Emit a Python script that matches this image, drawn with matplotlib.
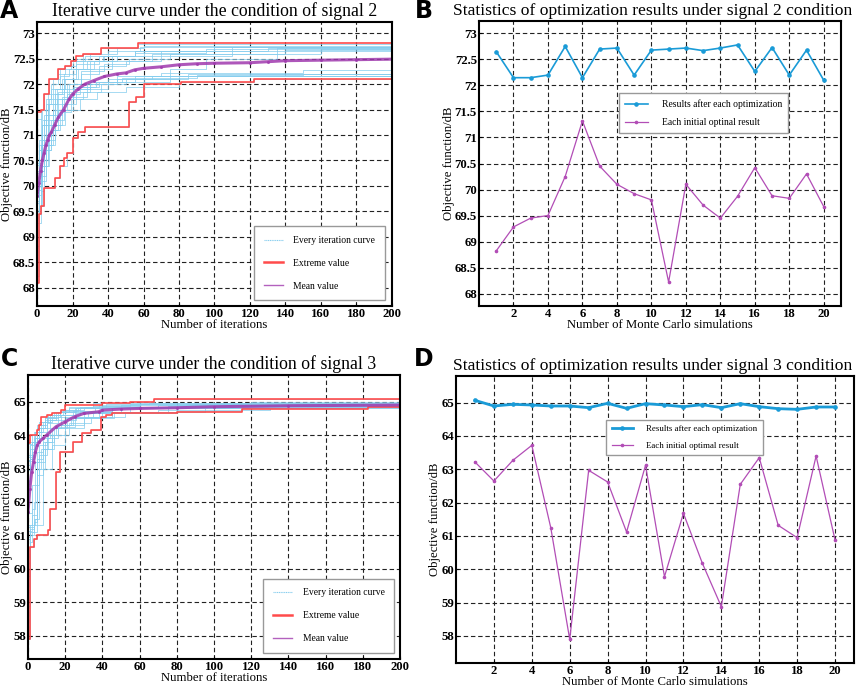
import numpy as np
import matplotlib
matplotlib.use("Agg")
import matplotlib.pyplot as plt
from matplotlib.lines import Line2D

# ---------------- data ----------------
runs = list(range(1, 21))

# Panel B (signal 2)
s2_final = [72.65, 72.15, 72.15, 72.2, 72.75, 72.15, 72.7, 72.72, 72.2, 72.68,
            72.7, 72.72, 72.67, 72.72, 72.78, 72.27, 72.73, 72.2, 72.68, 72.1]
s2_initial = [68.82, 69.28, 69.45, 69.5, 70.25, 71.32, 70.45, 70.1, 69.92, 69.8,
              68.22, 70.1, 69.7, 69.45, 69.87, 70.42, 69.88, 69.83, 70.3, 69.67]

# Panel D (signal 3)
s3_final = [65.07, 64.9, 64.95, 64.93, 64.9, 64.9, 64.85, 64.98, 64.83, 64.97,
            64.93, 64.88, 64.94, 64.85, 64.97, 64.88, 64.82, 64.8, 64.87, 64.87]
s3_initial = [63.22, 62.65, 63.27, 63.72, 61.25, 57.9, 62.97, 62.62, 61.12, 63.12,
              59.78, 61.68, 60.18, 58.88, 62.55, 63.35, 61.32, 60.95, 63.4, 60.88]

# Panel A: step points of each iteration curve (iteration, value)
s2_curve_iters = [
    [0, 1, 3, 5, 8, 12, 18, 25, 35, 50, 70, 110],
    [0, 2, 4, 7, 10, 15, 22, 30, 45, 80],
    [0, 1, 3, 6, 9, 14, 20, 28, 40, 65],
    [0, 2, 5, 8, 12, 17, 24, 33, 48, 90, 150],
    [0, 1, 3, 5, 8, 12, 16, 22, 30, 45, 60],
    [0, 3, 7, 12, 20, 35, 55],
    [0, 2, 4, 7, 11, 16, 23, 32, 45, 70, 130],
    [0, 1, 3, 6, 10, 15, 22, 35, 55, 100],
    [0, 2, 5, 9, 14, 20, 28, 40, 60, 120],
    [0, 1, 4, 7, 11, 17, 25, 38, 52, 75, 160],
    [0, 1, 2, 4, 10, 13, 17, 20, 23, 27, 52, 56, 60, 75, 95, 135],
    [0, 2, 4, 6, 9, 13, 19, 27, 40, 58],
    [0, 1, 3, 6, 10, 15, 21, 30, 42, 65, 140],
    [0, 1, 3, 5, 9, 14, 20, 28, 38, 55, 100],
    [0, 1, 2, 4, 7, 12, 16, 20, 26, 36, 57],
    [0, 2, 5, 9, 14, 20, 30, 45, 70, 150],
    [0, 1, 3, 6, 10, 15, 22, 30, 42, 60, 110],
    [0, 2, 4, 8, 13, 19, 26, 36, 50, 85],
    [0, 1, 3, 5, 8, 13, 18, 26, 37, 55, 95],
    [0, 1, 3, 6, 10, 16, 24, 34, 50, 80, 122],
]
s2_curve_values = [
    [68.82, 69.6, 70.2, 70.8, 71.3, 71.7, 72.0, 72.2, 72.35, 72.45, 72.55, 72.65],
    [69.28, 69.9, 70.4, 70.9, 71.3, 71.6, 71.85, 72.0, 72.1, 72.15],
    [69.45, 70.0, 70.5, 71.0, 71.4, 71.7, 71.9, 72.0, 72.1, 72.15],
    [69.5, 70.1, 70.7, 71.1, 71.5, 71.8, 71.95, 72.05, 72.12, 72.17, 72.2],
    [70.25, 70.8, 71.3, 71.7, 72.0, 72.2, 72.35, 72.5, 72.6, 72.7, 72.75],
    [71.32, 71.5, 71.7, 71.85, 71.95, 72.05, 72.15],
    [70.45, 70.9, 71.3, 71.6, 71.9, 72.1, 72.3, 72.45, 72.55, 72.65, 72.7],
    [70.1, 70.7, 71.2, 71.6, 71.9, 72.2, 72.4, 72.55, 72.65, 72.72],
    [69.92, 70.4, 70.8, 71.2, 71.5, 71.75, 71.9, 72.05, 72.15, 72.2],
    [69.8, 70.3, 70.9, 71.3, 71.7, 72.0, 72.25, 72.4, 72.5, 72.6, 72.68],
    [68.22, 69.45, 69.6, 69.95, 70.15, 70.4, 70.65, 70.95, 71.05, 71.15, 71.65, 71.75, 72.05, 72.3, 72.5, 72.7],
    [70.1, 70.8, 71.4, 71.8, 72.1, 72.3, 72.45, 72.55, 72.65, 72.72],
    [69.7, 70.3, 70.8, 71.2, 71.6, 71.9, 72.1, 72.3, 72.45, 72.6, 72.67],
    [69.45, 70.2, 70.9, 71.4, 71.8, 72.1, 72.3, 72.45, 72.55, 72.65, 72.72],
    [69.87, 70.9, 71.5, 71.8, 72.1, 72.3, 72.35, 72.45, 72.6, 72.7, 72.78],
    [70.42, 70.8, 71.2, 71.5, 71.75, 71.9, 72.05, 72.15, 72.22, 72.27],
    [69.88, 70.5, 71.0, 71.4, 71.8, 72.1, 72.3, 72.45, 72.55, 72.65, 72.73],
    [69.83, 70.3, 70.7, 71.1, 71.45, 71.7, 71.85, 72.0, 72.1, 72.2],
    [70.3, 70.7, 71.2, 71.6, 71.9, 72.15, 72.3, 72.45, 72.55, 72.62, 72.68],
    [69.67, 70.0, 70.4, 70.8, 71.2, 71.5, 71.7, 71.85, 71.95, 72.05, 72.1],
]
s2_upper_iters = [0, 2, 4, 7, 12, 16, 19, 22, 26, 36, 57, 200]
s2_upper_values = [71.45, 71.5, 71.8, 72.1, 72.3, 72.35, 72.45, 72.55, 72.6, 72.7, 72.8, 72.8]
s2_lower_iters = [0, 1, 2, 4, 10, 13, 15, 17, 20, 23, 27, 52, 56, 60, 81, 122, 200]
s2_lower_values = [68.1, 69.45, 69.6, 69.95, 70.15, 70.4, 70.55, 70.65, 70.95, 71.05,
                   71.15, 71.65, 71.75, 72.0, 72.05, 72.1, 72.1]
s2_mean_iters = [0, 1, 2, 3, 4, 5, 6, 7, 8, 10, 12, 15, 18, 20, 23, 27, 32, 38, 45, 50,
                 55, 60, 70, 80, 90, 100, 120, 130, 140, 160, 180, 200]
s2_mean_values = [69.8, 70.05, 70.3, 70.5, 70.65, 70.8, 70.9, 71.0, 71.05, 71.2, 71.35,
                  71.5, 71.7, 71.8, 71.9, 72.0, 72.07, 72.15, 72.2, 72.22, 72.28, 72.31,
                  72.34, 72.38, 72.4, 72.41, 72.42, 72.44, 72.46, 72.47, 72.48, 72.49]

# Panel C
s3_curve_iters = [
    [0, 2, 5, 9, 15, 22, 35, 60, 68],
    [0, 1, 3, 6, 10, 16, 25, 40, 80],
    [0, 1, 4, 8, 13, 20, 30, 50, 100],
    [0, 2, 5, 9, 14, 22, 35, 55],
    [0, 3, 5, 8, 12, 18, 26, 40, 70],
    [0, 1, 3, 5, 11, 12, 15, 17, 24, 29, 34, 39, 45, 80, 115, 183],
    [0, 2, 4, 7, 12, 18, 28, 45, 90],
    [0, 1, 3, 6, 10, 17, 26, 40, 60, 120],
    [0, 2, 5, 7, 11, 16, 24, 38, 75],
    [0, 1, 4, 7, 12, 19, 28, 42, 65],
    [0, 1, 3, 5, 8, 13, 20, 30, 45, 85],
    [0, 2, 4, 6, 10, 15, 23, 35, 55, 110],
    [0, 1, 3, 5, 9, 14, 21, 32, 50, 90],
    [0, 1, 2, 5, 8, 13, 20, 30, 46, 80, 150],
    [0, 1, 3, 6, 10, 16, 25, 38, 60],
    [0, 2, 5, 9, 15, 24, 36, 55, 100],
    [0, 2, 4, 6, 10, 16, 25, 40, 70, 130],
    [0, 1, 4, 6, 9, 14, 22, 34, 52, 95],
    [0, 1, 3, 6, 11, 17, 27, 42, 75],
    [0, 1, 3, 5, 8, 13, 20, 30, 45, 80, 140],
]
s3_curve_values = [
    [63.22, 63.8, 64.2, 64.5, 64.7, 64.85, 64.95, 65.0, 65.07],
    [62.65, 63.3, 63.8, 64.1, 64.35, 64.55, 64.7, 64.8, 64.9],
    [63.27, 63.7, 64.1, 64.4, 64.6, 64.75, 64.85, 64.9, 64.95],
    [63.72, 64.0, 64.3, 64.55, 64.7, 64.8, 64.88, 64.93],
    [61.25, 62.0, 63.5, 63.9, 64.2, 64.45, 64.65, 64.8, 64.9],
    [57.9, 60.65, 60.9, 61.0, 61.15, 61.8, 62.9, 63.5, 63.8, 64.05, 64.15, 64.55, 64.65, 64.72, 64.8, 64.9],
    [62.97, 63.5, 63.9, 64.2, 64.45, 64.6, 64.72, 64.8, 64.85],
    [62.62, 63.4, 63.9, 64.3, 64.55, 64.7, 64.8, 64.88, 64.93, 64.98],
    [61.12, 61.6, 63.0, 63.6, 64.0, 64.3, 64.55, 64.7, 64.83],
    [63.12, 63.6, 64.1, 64.4, 64.6, 64.75, 64.85, 64.92, 64.97],
    [59.78, 61.0, 61.5, 63.3, 63.8, 64.2, 64.5, 64.65, 64.8, 64.93],
    [61.68, 62.5, 63.2, 63.7, 64.0, 64.3, 64.55, 64.7, 64.8, 64.88],
    [60.18, 61.2, 61.4, 63.2, 63.8, 64.2, 64.5, 64.7, 64.85, 64.94],
    [58.88, 60.8, 61.1, 61.3, 63.0, 63.7, 64.2, 64.5, 64.7, 64.8, 64.85],
    [62.55, 63.3, 63.8, 64.2, 64.5, 64.7, 64.82, 64.9, 64.97],
    [63.35, 63.8, 64.2, 64.45, 64.6, 64.72, 64.8, 64.85, 64.88],
    [61.32, 61.8, 62.5, 63.4, 63.9, 64.25, 64.5, 64.65, 64.75, 64.82],
    [60.95, 61.3, 61.5, 63.0, 63.6, 64.0, 64.35, 64.55, 64.7, 64.8],
    [63.4, 63.8, 64.1, 64.4, 64.6, 64.72, 64.8, 64.85, 64.87],
    [60.88, 61.1, 61.3, 62.8, 63.6, 64.0, 64.3, 64.55, 64.7, 64.8, 64.87],
]
s3_upper_iters = [0, 1, 5, 6, 7, 10, 13, 18, 20, 40, 55, 68, 200]
s3_upper_values = [63.75, 64.0, 64.15, 64.3, 64.55, 64.6, 64.65, 64.75, 64.9, 64.95, 65.0, 65.08, 65.08]
s3_lower_iters = [0, 1, 3, 5, 11, 12, 15, 17, 24, 29, 34, 39, 42, 45, 80, 115, 183, 200]
s3_lower_values = [57.9, 60.65, 60.9, 61.0, 61.15, 61.8, 62.9, 63.5, 63.8, 64.05, 64.15,
                   64.55, 64.6, 64.65, 64.7, 64.78, 64.83, 64.83]
s3_mean_iters = [0, 1, 2, 3, 4, 5, 6, 8, 10, 15, 20, 25, 30, 38, 40, 50, 60, 80, 100, 140, 200]
s3_mean_values = [61.7, 62.4, 62.9, 63.2, 63.5, 63.7, 63.8, 63.9, 64.0, 64.25, 64.4, 64.55,
                  64.65, 64.7, 64.75, 64.78, 64.8, 64.82, 64.85, 64.88, 64.9]

# ---------------- style ----------------
plt.rcParams['font.family'] = ['Liberation Serif', 'DejaVu Serif']

C_LIGHT = '#86CDEE'
C_RED = '#FF4B4B'
C_MEAN = '#A03AAE'
C_BLUE = '#1A9BD7'
C_PURP = '#B24DB6'

fig = plt.figure(figsize=(8.58, 6.87), dpi=100)
W, H = 858, 687


def add_ax(l, t, r, b):
    return fig.add_axes([l / W, 1 - b / H, (r - l) / W, (b - t) / H])


def style(ax, yt, ylabels, xt, title, xlabel, title_x=0.5, title_size=12.8):
    ax.set_yticks(yt)
    ax.set_yticklabels(ylabels)
    ax.set_xticks(xt)
    ax.grid(True, color='#222222', linestyle=(0, (4, 2.5)), linewidth=0.8)
    ax.set_axisbelow(True)
    for sp in ax.spines.values():
        sp.set_linewidth(1.5)
    ax.tick_params(direction='in', length=2, width=0.8, labelsize=9.2, pad=1.5)
    for lab in ax.get_xticklabels() + ax.get_yticklabels():
        lab.set_fontweight('bold')
    ax.set_title(title, fontsize=title_size, pad=4, x=title_x)
    ax.set_xlabel(xlabel, fontsize=9.2, labelpad=-1)
    ax.set_ylabel('Objective function/dB', fontsize=9.2, labelpad=0)


def draw_iter(ax, c_iters, c_vals, up_i, up_v, lo_i, lo_v, m_i, m_v):
    for it, vv in zip(c_iters, c_vals):
        ax.plot(list(it) + [200], list(vv) + [vv[-1]], drawstyle='steps-post',
                color=C_LIGHT, lw=0.6, alpha=0.85)
    ax.plot(up_i, up_v, drawstyle='steps-post', color=C_RED, lw=1.2)
    ax.plot(lo_i, lo_v, drawstyle='steps-post', color=C_RED, lw=1.2)
    ax.plot(m_i, m_v, color=C_MEAN, lw=2.2, alpha=0.85, marker='o', ms=2.2,
            markeredgewidth=0)
    handles = [Line2D([], [], color=C_LIGHT, lw=0.8, linestyle=(0, (1, 0.6))),
               Line2D([], [], color=C_RED, lw=1.8),
               Line2D([], [], color=C_MEAN, lw=1.0, alpha=0.8)]
    return handles


leg_iter_kw = dict(loc='lower right', borderaxespad=0, fontsize=6.9, labelspacing=1.45,
                   handlelength=2.0, handletextpad=1.1, borderpad=1.0, fancybox=False,
                   edgecolor='#999999', framealpha=1)

# Panel A
axA = add_ax(37, 22, 392, 306)
hA = draw_iter(axA, s2_curve_iters, s2_curve_values, s2_upper_iters, s2_upper_values,
               s2_lower_iters, s2_lower_values, s2_mean_iters, s2_mean_values)
axA.set_xlim(0, 200)
axA.set_ylim(67.64, 73.22)
yA = [68, 68.5, 69, 69.5, 70, 70.5, 71, 71.5, 72, 72.5, 73]
yA_labels = ['68', '68.5', '69', '69.5', '70', '70.5', '71', '71.5', '72', '72.5', '73']
style(axA, yA, yA_labels, range(0, 201, 20),
      'Iterative curve under the condition of signal 2', 'Number of iterations')
axA.legend(hA, ['Every iteration curve', 'Extreme value', 'Mean value'],
           bbox_to_anchor=(0.98, 0.02), **leg_iter_kw)

# Panel B
axB = add_ax(479, 21, 841, 306)
axB.plot(runs, s2_final, color=C_BLUE, lw=1.2, marker='o', ms=2.3,
         label='Results after each optimization')
axB.plot(runs, s2_initial, color=C_PURP, lw=0.9, marker='o', ms=1.6,
         label='Each initial optinal result')
axB.set_xlim(0, 21)
axB.set_ylim(67.76, 73.24)
style(axB, yA, yA_labels, range(2, 21, 2),
      'Statistics of optimization results under signal 2 condition',
      'Number of Monte Carlo simulations', title_x=0.48, title_size=12.6)
axB.legend(loc='center', bbox_to_anchor=(0.62, 0.676), fontsize=6.9, labelspacing=1.0,
           handlelength=2.4, handletextpad=1.5, borderpad=0.6, fancybox=False,
           edgecolor='#999999', framealpha=1)

# Panel C
axC = add_ax(28, 375, 400, 659)
hC = draw_iter(axC, s3_curve_iters, s3_curve_values, s3_upper_iters, s3_upper_values,
               s3_lower_iters, s3_lower_values, s3_mean_iters, s3_mean_values)
axC.set_xlim(0, 200)
axC.set_ylim(57.3, 65.8)
yC = [58, 59, 60, 61, 62, 63, 64, 65]
style(axC, yC, [str(v) for v in yC], range(0, 201, 20),
      'Iterative curve under the condition of signal 3', 'Number of iterations')
axC.legend(hC, ['Every iteration curve', 'Extreme value', 'Mean value'],
           bbox_to_anchor=(0.984, 0.022), **leg_iter_kw)

# Panel D
axD = add_ax(456, 376, 854, 663)
axD.plot(runs, s3_final, color=C_BLUE, lw=2.0, marker='o', ms=2.3,
         label='Results after each optimization')
axD.plot(runs, s3_initial, color=C_PURP, lw=0.9, marker='o', ms=1.6,
         label='Each initial optimal result')
axD.set_xlim(0, 21)
axD.set_ylim(57.19, 65.8)
style(axD, yC, [str(v) for v in yC], range(2, 21, 2),
      'Statistics of optimization results under signal 3 condition',
      'Number of Monte Carlo simulations', title_x=0.495, title_size=12.6)
axD.legend(loc='center', bbox_to_anchor=(0.574, 0.786), fontsize=6.4, labelspacing=0.9,
           handlelength=2.4, handletextpad=1.5, borderpad=0.6, fancybox=False,
           edgecolor='#999999', framealpha=1)

# Panel letters
for txt, x, y in [('A', 9, 11), ('B', 424, 11), ('C', 9, 359), ('D', 424, 359)]:
    fig.text(x / W, 1 - y / H, txt, fontsize=17, fontweight='bold', family='DejaVu Sans',
             ha='center', va='center')

fig.savefig('out.png', dpi=100)
